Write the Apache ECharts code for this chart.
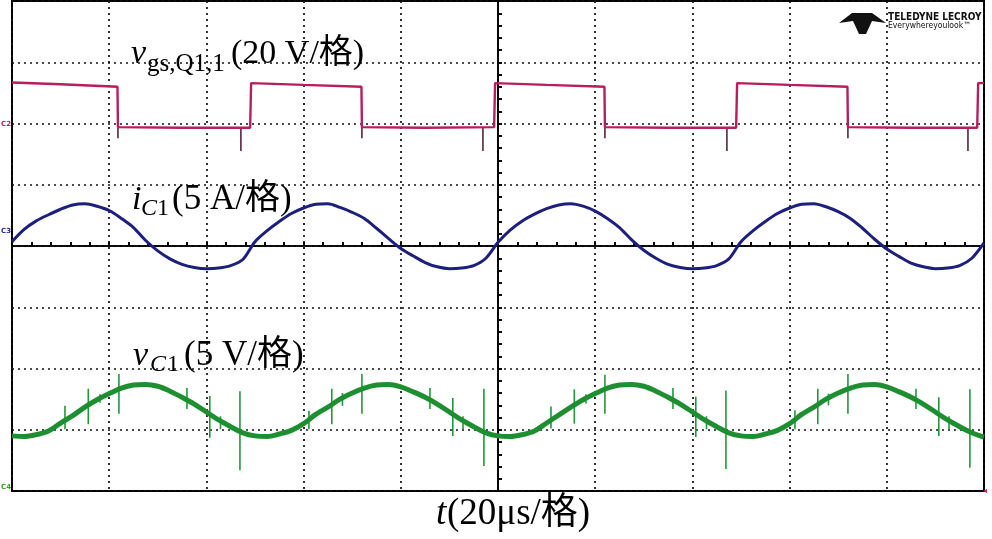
<!DOCTYPE html>
<html>
<head>
<meta charset="utf-8">
<script src="https://cdn.jsdelivr.net/npm/echarts@6/dist/echarts.min.js"></script>
<style>
  html, body { margin: 0; padding: 0; background: #fff; }
  #chart { width: 992px; height: 539px; }
</style>
</head>
<body>
<div id="chart"></div>
<script>
// time in µs relative to the trigger (centre of the screen), 20 µs per division
const time = [
  -100, -97.5, -95, -92.5, -90, -87.5, -85, -82.5, -80, -77.5, -75, -72.5, -70, -67.5, -65, -62.5, -60, -57.5, -55, -52.5,
  -50, -47.5, -45, -42.5, -40, -37.5, -35, -32.5, -30, -27.5, -25, -22.5, -20, -17.5, -15, -12.5, -10, -7.5, -5, -2.5,
  0, 2.5, 5, 7.5, 10, 12.5, 15, 17.5, 20, 22.5, 25, 27.5, 30, 32.5, 35, 37.5, 40, 42.5, 45, 47.5,
  50, 52.5, 55, 57.5, 60, 62.5, 65, 67.5, 70, 72.5, 75, 77.5, 80, 82.5, 85, 87.5, 90, 92.5, 95, 97.5, 100
];

// trace positions in screen divisions (0 = centre line)
const iC1 = [
  0.07, 0.27, 0.41, 0.51, 0.60, 0.67, 0.69, 0.65, 0.58, 0.45, 0.30, 0.09, -0.08, -0.21, -0.30, -0.35, -0.37, -0.36, -0.32, -0.22,
  0.07, 0.25, 0.40, 0.53, 0.62, 0.68, 0.69, 0.63, 0.55, 0.45, 0.29, 0.12, -0.04, -0.16, -0.27, -0.34, -0.37, -0.36, -0.32, -0.20,
  0.06, 0.26, 0.41, 0.52, 0.61, 0.67, 0.69, 0.65, 0.57, 0.45, 0.30, 0.10, -0.07, -0.20, -0.30, -0.35, -0.37, -0.36, -0.32, -0.21,
  0.07, 0.25, 0.40, 0.53, 0.62, 0.68, 0.69, 0.64, 0.56, 0.45, 0.29, 0.11, -0.05, -0.17, -0.28, -0.34, -0.37, -0.36, -0.32, -0.20,
  0.05
];

const vC1 = [
  -3.10, -3.11, -3.08, -3.02, -2.89, -2.77, -2.63, -2.51, -2.41, -2.32, -2.27, -2.26, -2.29, -2.37, -2.47, -2.58, -2.71, -2.84, -2.95, -3.05,
  -3.10, -3.11, -3.07, -3.01, -2.90, -2.75, -2.63, -2.50, -2.40, -2.32, -2.27, -2.26, -2.30, -2.38, -2.47, -2.58, -2.71, -2.84, -2.95, -3.05,
  -3.10, -3.11, -3.08, -3.02, -2.89, -2.76, -2.63, -2.51, -2.41, -2.32, -2.27, -2.26, -2.29, -2.37, -2.47, -2.58, -2.71, -2.84, -2.95, -3.05,
  -3.10, -3.11, -3.07, -3.01, -2.90, -2.75, -2.63, -2.50, -2.40, -2.32, -2.27, -2.26, -2.30, -2.38, -2.47, -2.58, -2.71, -2.84, -2.95, -3.05,
  -3.12
];

// gate signal: corners of the square wave
const vgsTime = [-100, -90, -78.3, -78.2, -65, -51.0, -50.8, -40, -28.1, -28.0, -15, -0.8, -0.6, 10, 21.9, 22.0, 35, 49.0, 49.2, 60, 71.9, 72.0, 85, 98.6, 98.8, 100];
const vgsLevel = [2.67, 2.64, 2.60, 1.94, 1.93, 1.93, 2.66, 2.63, 2.60, 1.94, 1.93, 1.94, 2.66, 2.63, 2.60, 1.94, 1.93, 1.93, 2.66, 2.63, 2.60, 1.94, 1.93, 1.93, 2.66, 2.66];

// switching spikes (time, top, bottom)
const vgsSpikeTime = [-78.2, -52.9, -28.0, -3.1, 22.0, 47.1, 72.0, 96.7];
const vgsSpikeTop = [1.94, 1.94, 1.94, 1.94, 1.94, 1.94, 1.94, 1.94];
const vgsSpikeBottom = [1.76, 1.55, 1.76, 1.55, 1.76, 1.55, 1.76, 1.55];

const vcSpikeTime = [
  -89.1, -84.3, -81.9, -78.0, -64.0, -59.3, -57.1, -53.1,
  -38.9, -34.2, -32.0, -28.0, -14.0, -9.3, -7.2, -2.9,
  10.9, 15.7, 18.1, 22.0, 36.0, 40.7, 42.9, 46.9,
  61.1, 65.8, 68.0, 72.0, 86.0, 90.7, 92.8, 97.1
];
const vcSpikeTop = [
  -2.61, -2.33, -2.42, -2.09, -2.32, -2.45, -2.78, -2.37,
  -2.69, -2.33, -2.40, -2.09, -2.32, -2.48, -2.78, -2.33,
  -2.62, -2.34, -2.42, -2.10, -2.32, -2.46, -2.78, -2.36,
  -2.68, -2.33, -2.41, -2.09, -2.33, -2.47, -2.78, -2.34
];
const vcSpikeBottom = [
  -2.99, -2.91, -2.56, -2.74, -2.66, -3.13, -2.99, -3.66,
  -2.99, -2.91, -2.61, -2.74, -2.66, -3.10, -2.99, -3.59,
  -2.98, -2.90, -2.57, -2.74, -2.66, -3.12, -2.99, -3.64,
  -2.99, -2.91, -2.60, -2.74, -2.66, -3.10, -2.99, -3.62
];

const SERIF = '"Liberation Serif", "Times New Roman", "Noto Sans CJK SC", serif';

const chart = echarts.init(document.getElementById('chart'), null, { renderer: 'canvas' });

function spikeSeries(name, t, top, bottom, color, width) {
  return {
    name: name,
    type: 'custom',
    xAxisIndex: 0,
    yAxisIndex: 0,
    clip: true,
    z: 3,
    encode: { x: 0, y: [1, 2] },
    data: t.map((v, i) => [v, top[i], bottom[i]]),
    renderItem: (params, api) => {
      const a = api.coord([api.value(0), api.value(1)]);
      const b = api.coord([api.value(0), api.value(2)]);
      return {
        type: 'line',
        shape: { x1: a[0], y1: a[1], x2: b[0], y2: b[1] },
        style: { stroke: color, lineWidth: width }
      };
    }
  };
}

const dotted = { type: [2, 4], color: '#111', width: 1.7 };

function timeAxis(inside, grid) {
  return {
    type: 'value', min: -100, max: 100, interval: 20,
    axisLine: { show: true, onZero: true, onZeroAxisIndex: inside ? 0 : 1, lineStyle: { color: '#000', width: 1.6 } },
    axisTick: { show: true, inside: inside, length: 4, lineStyle: { color: '#000', width: 1.6 } },
    minorTick: { show: true, splitNumber: 5, length: 4, lineStyle: { color: '#000', width: 1.6 } },
    axisLabel: { show: false },
    splitLine: { show: grid, lineStyle: dotted },
    minorSplitLine: { show: false }
  };
}
function levelAxis(inside, grid) {
  return {
    type: 'value', min: -4, max: 4, interval: 1,
    axisLine: { show: true, onZero: true, onZeroAxisIndex: inside ? 0 : 1, lineStyle: { color: '#000', width: 1.6 } },
    axisTick: { show: true, inside: inside, length: 4, lineStyle: { color: '#000', width: 1.6 } },
    minorTick: { show: true, splitNumber: 5, length: 4, lineStyle: { color: '#000', width: 1.6 } },
    axisLabel: { show: false },
    splitLine: { show: grid, lineStyle: dotted },
    minorSplitLine: { show: false }
  };
}

function txt(x, y, text, font, color) {
  return { type: 'text', x: x, y: y, z: 20, style: { text: text, font: font, fill: color || '#000', verticalAlign: 'middle', align: 'left' } };
}

chart.setOption({
  animation: false,
  backgroundColor: '#fff',
  grid: { left: 12, top: 1, width: 972, height: 490, show: true, borderColor: '#000', borderWidth: 2, backgroundColor: 'transparent' },
  xAxis: [timeAxis(true, true), timeAxis(false, false)],
  yAxis: [levelAxis(true, true), levelAxis(false, false)],
  series: [
    {
      name: 'vgs', type: 'line', xAxisIndex: 0, yAxisIndex: 0, showSymbol: false, z: 4,
      data: vgsTime.map((t, i) => [t, vgsLevel[i]]),
      lineStyle: { color: '#b81d5e', width: 2.4 }
    },
    spikeSeries('vgs spikes', vgsSpikeTime, vgsSpikeTop, vgsSpikeBottom, '#4a1630', 1.5),
    {
      name: 'iC1', type: 'line', xAxisIndex: 0, yAxisIndex: 0, showSymbol: false, smooth: 0.3, z: 4,
      data: time.map((t, i) => [t, iC1[i]]),
      lineStyle: { color: '#1c1f7e', width: 3 }
    },
    {
      name: 'vC1', type: 'line', xAxisIndex: 0, yAxisIndex: 0, showSymbol: false, smooth: 0.35, z: 4,
      data: time.map((t, i) => [t, vC1[i]]),
      lineStyle: { color: '#1e8f31', width: 5 }
    },
    spikeSeries('vC1 spikes', vcSpikeTime, vcSpikeTop, vcSpikeBottom, '#22963a', 1.6)
  ],
  graphic: [
    // trace labels
    txt(131, 54, 'v', 'italic 34px ' + SERIF),
    txt(147, 64, 'gs,Q1,1', '25px ' + SERIF),
    txt(231, 54, '(20 V/格)', '34px ' + SERIF),

    txt(132, 200, 'i', 'italic 34px ' + SERIF),
    txt(141, 209, 'C', 'italic 24px ' + SERIF),
    txt(157, 209, '1', '24px ' + SERIF),
    txt(172, 200, '(5 A/格)', '35px ' + SERIF),

    txt(133, 356, 'v', 'italic 34px ' + SERIF),
    txt(150, 365, 'C', 'italic 24px ' + SERIF),
    txt(167, 365, '1', '24px ' + SERIF),
    txt(184, 356, '(5 V/格)', '35px ' + SERIF),

    txt(436, 514, 't', 'italic 37px ' + SERIF),
    txt(447, 514, '(20μs/格)', '37px ' + SERIF),

    // channel markers
    txt(1, 124, 'C2', 'bold 7px "DejaVu Sans"', '#c0206a'),
    txt(1, 231, 'C3', 'bold 7px "DejaVu Sans"', '#2a2a90'),
    txt(1, 487, 'C4', 'bold 7px "DejaVu Sans"', '#3a9a2a'),
    txt(983, 491, '◂', 'bold 8px "DejaVu Sans"', '#d02070'),

    // scope logo
    {
      type: 'polygon', z: 20,
      shape: { points: [[839, 23], [852, 13], [872, 13], [886, 23], [872, 21], [866, 34], [859, 34], [853, 21]] },
      style: { fill: '#111' }
    },
    txt(888, 17, 'TELEDYNE LECROY', 'bold 10px "DejaVu Sans Condensed", "DejaVu Sans"', '#111'),
    txt(888, 26, 'Everywhereyoulook™', '8.5px "DejaVu Sans Condensed", "DejaVu Sans"', '#111')
  ]
});
</script>
</body>
</html>
